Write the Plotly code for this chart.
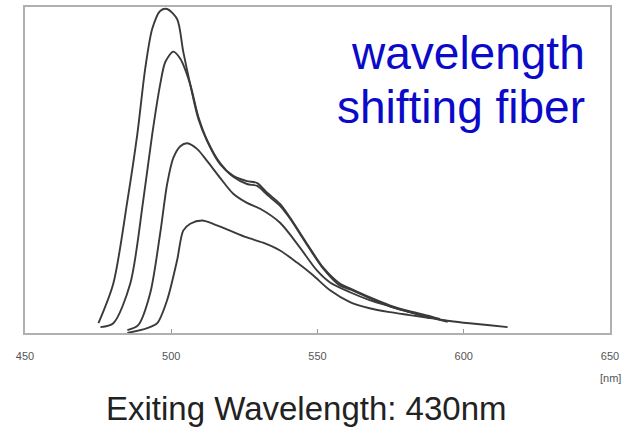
import plotly.graph_objects as go

# Emission spectra (wavelength in nm, relative intensity)
wl_a = [475.1, 480.2, 485.0, 488.4, 491.1, 493.5, 496.2, 498.6, 502.0, 504.1, 506.5, 509.2, 512.3,
        516.7, 521.2, 525.9, 529.4, 532.8, 537.2, 540.6, 546.4, 551.9, 557.6, 561.1, 567.8, 574.7,
        581.5, 588.4, 591.8]
int_a = [3.0, 15.2, 40.5, 61.0, 81.1, 93.3, 98.8, 99.4, 96.3, 86.3, 76.2, 65.9, 58.8,
         51.8, 48.2, 46.6, 46.0, 43.0, 39.6, 35.4, 27.4, 20.1, 15.2, 13.7, 11.0, 8.5,
         6.7, 5.2, 4.3]

wl_b = [475.8, 480.2, 486.0, 490.4, 493.5, 496.2, 498.0, 500.7, 503.1, 506.5, 509.2, 512.3, 516.7,
        521.2, 525.9, 529.4, 532.8, 537.2, 540.6, 546.4, 551.9, 557.6, 561.1, 567.8, 574.7, 581.5,
        588.4]
int_b = [1.8, 3.0, 15.2, 40.5, 61.0, 76.2, 83.2, 86.3, 84.1, 76.2, 66.5, 59.1, 52.1,
         47.9, 45.7, 45.1, 42.4, 39.0, 35.1, 27.1, 19.8, 14.6, 13.4, 10.7, 8.2, 6.4,
         4.6]

wl_c = [485.0, 488.7, 492.8, 496.2, 498.6, 500.7, 503.1, 505.5, 508.9, 512.3, 516.7, 521.2, 525.9,
        530.4, 537.2, 544.0, 549.8, 554.3, 561.1, 567.8, 574.7, 581.5, 588.4, 594.5]
int_c = [0.9, 2.4, 12.2, 30.5, 45.7, 53.7, 57.3, 58.2, 56.4, 52.7, 47.6, 42.7, 39.9,
         38.1, 33.8, 26.2, 19.2, 15.5, 12.5, 10.1, 8.2, 6.4, 4.9, 3.4]

wl_d = [485.0, 491.8, 495.2, 498.6, 502.0, 504.1, 506.5, 510.6, 514.3, 520.1, 525.9, 531.4, 537.2,
        543.0, 548.5, 554.3, 561.1, 567.8, 574.7, 581.5, 588.4, 595.2, 602.0, 608.9, 615.0]
int_d = [0.0, 1.5, 3.0, 10.1, 22.3, 31.4, 33.5, 34.5, 33.5, 31.4, 29.3, 27.7, 25.3,
         21.6, 17.7, 13.1, 9.5, 7.6, 6.4, 5.5, 4.6, 3.7, 3.0, 2.4, 1.8]

x_ticks = [450, 500, 550, 600, 650]
x_tick_text = ["450", "500", "550", "600", "650"]

line_color = "#3a3a3a"

fig = go.Figure()
for wl, inten in [(wl_a, int_a), (wl_b, int_b), (wl_c, int_c), (wl_d, int_d)]:
    fig.add_trace(go.Scatter(
        x=wl, y=inten, mode="lines",
        line=dict(color=line_color, width=1.9, shape="spline", smoothing=0.8),
        showlegend=False, hoverinfo="skip",
    ))

fig.update_layout(
    width=631, height=446,
    margin=dict(l=25, r=21, t=5, b=113),
    paper_bgcolor="white", plot_bgcolor="white",
    font=dict(family="Liberation Sans, Arial, sans-serif"),
    xaxis=dict(
        range=[450, 650], tickvals=x_ticks, ticktext=x_tick_text,
        showgrid=False, zeroline=False,
        showline=True, mirror=True, linecolor="#b0b0b0", linewidth=1.5,
        ticks="inside", ticklen=4, tickcolor="#999999",
        tickfont=dict(size=11, color="#555555"),
        ticklabelstandoff=12,
    ),
    yaxis=dict(
        range=[0, 100], showgrid=False, zeroline=False,
        showline=True, mirror=True, linecolor="#b0b0b0", linewidth=1.5,
        showticklabels=False, ticks="",
    ),
    annotations=[
        dict(text="wavelength", xref="paper", yref="paper",
             x=0.960, y=(333 - 51) / 328, xanchor="right", yanchor="middle",
             showarrow=False, font=dict(size=46, color="#0a0ac8")),
        dict(text="shifting fiber", xref="paper", yref="paper",
             x=0.960, y=(333 - 106) / 328, xanchor="right", yanchor="middle",
             showarrow=False, font=dict(size=46, color="#0a0ac8")),
        dict(text="[nm]", xref="paper", yref="paper", x=1.0, y=(333 - 378) / 328,
             xanchor="center", yanchor="middle", showarrow=False,
             font=dict(size=11, color="#555555")),
        dict(text="Exiting Wavelength: 430nm", xref="paper", yref="paper",
             x=0.481, y=(333 - 409) / 328, xanchor="center", yanchor="middle", showarrow=False,
             font=dict(size=33, color="#222222")),
    ],
)

fig.write_html("out.html")
